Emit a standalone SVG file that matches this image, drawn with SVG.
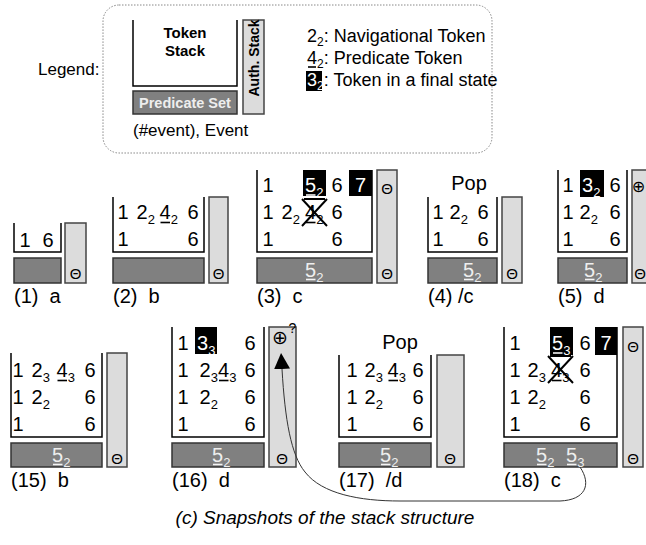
<svg xmlns="http://www.w3.org/2000/svg" width="646" height="545" viewBox="0 0 646 545">
<defs>
<style>
text { font-family: "Liberation Sans", Arial, sans-serif; fill: #000; }
.d { font-size: 20px; }
.s { font-size: 13px; }
.w { fill: #fff; }
.pw { fill: #eeeeee; }
.ts { fill: none; stroke: #000; stroke-width: 1.5; }
.pb { fill: #808080; stroke: #333; stroke-width: 1.5; }
.as { fill: #dcdcdc; stroke: #444; stroke-width: 1.5; }
.ul { stroke: #000; stroke-width: 1.6; }
.ulw { stroke: #f4f4f4; stroke-width: 1.6; }
.th { font-size: 15px; text-anchor: middle; }
.op { font-family: "DejaVu Sans", sans-serif; font-size: 19px; text-anchor: middle; }
.lb { font-size: 20px; white-space: pre; }
.x { stroke: #000; stroke-width: 2; fill: none; }
.bk { fill: #000; }
.pop { font-size: 20px; text-anchor: middle; }
.lg { font-size: 18px; }
.lgs { font-size: 12px; }
.bold { font-weight: bold; }
.conn { fill: none; stroke: #333; stroke-width: 1; }
</style>
<marker id="ah" markerWidth="16" markerHeight="16" refX="0" refY="8" orient="auto" markerUnits="userSpaceOnUse">
<path d="M0,0 L16,8 L0,16 z" fill="#000"/>
</marker>
</defs>
<rect width="646" height="545" fill="#fff"/>

<g id="legend">
<rect x="103" y="5" width="389" height="148" rx="16" fill="none" stroke="#888" stroke-width="1" stroke-dasharray="1.5,1.5"/>
<text x="38" y="75" style="font-size:17px">Legend:</text>
<path class="ts" d="M133,20 V86 H237 V20"/>
<text class="bold" x="185" y="38" text-anchor="middle" style="font-size:15px">Token</text>
<text class="bold" x="185" y="56" text-anchor="middle" style="font-size:15px">Stack</text>
<rect class="pb" x="133" y="91" width="104" height="23"/>
<text class="bold" x="185" y="108" text-anchor="middle" style="font-size:14.5px;fill:#eeeeee">Predicate Set</text>
<rect class="as" x="243" y="20" width="21" height="94"/>
<text class="bold" transform="translate(259,58) rotate(-90)" text-anchor="middle" style="font-size:14px">Auth. Stack</text>
<text x="133" y="136" style="font-size:17px">(#event), Event</text>
<text class="lg" x="307" y="42">2<tspan class="lgs" dy="4">2</tspan><tspan dy="-4">: Navigational Token</tspan></text>
<text class="lg" x="307" y="64">4<tspan class="lgs" dy="4">2</tspan><tspan dy="-4">: Predicate Token</tspan></text>
<line class="ul" x1="308" y1="67" x2="316" y2="67"/>
<rect class="bk" x="306" y="71" width="16" height="20"/>
<text class="lg" x="307" y="86"><tspan class="w">3</tspan><tspan class="lgs w" dy="4">2</tspan><tspan dy="-4">: Token in a final state</tspan></text>
</g>

<g id="snap1">
<path class="ts" d="M14,223 V252 H61 V223"/>
<text class="d" x="19.5" y="247">1</text>
<text class="d" x="42.5" y="247">6</text>
<rect class="pb" x="14" y="258" width="47" height="25"/>
<rect class="as" x="65" y="223" width="21" height="60"/>
<text class="th" x="75.5" y="279">Θ</text>
<text class="lb" x="14" y="303">(1)  a</text>
</g>

<g id="snap2">
<path class="ts" d="M113,197 V252 H204 V197"/>
<text class="d" x="117.5" y="219">1</text>
<text class="d" x="136.5" y="219">2<tspan class="s" dy="5">2</tspan></text>
<text class="d" x="159.5" y="219">4<tspan class="s" dy="5">2</tspan></text>
<line class="ul" x1="160.5" y1="222.5" x2="170" y2="222.5"/>
<text class="d" x="187.5" y="219">6</text>
<text class="d" x="117.5" y="246">1</text>
<text class="d" x="187.5" y="246">6</text>
<rect class="pb" x="113" y="258" width="91" height="25"/>
<rect class="as" x="209" y="197" width="19" height="86"/>
<text class="th" x="218.5" y="279">Θ</text>
<text class="lb" x="113" y="303">(2)  b</text>
</g>

<g id="snap3">
<path class="ts" d="M257,170 V252 H372 V170"/>
<rect class="bk" x="303" y="170" width="23" height="26"/>
<rect class="bk" x="349" y="170" width="23" height="26"/>
<text class="d" x="262.5" y="192">1</text>
<text class="d w" x="305" y="192">5<tspan class="s" dy="5">2</tspan></text>
<line class="ulw" x1="306" y1="195" x2="315.5" y2="195"/>
<text class="d" x="331.5" y="192">6</text>
<text class="d w" x="355" y="192">7</text>
<text class="d" x="262.5" y="219">1</text>
<text class="d" x="281.5" y="219">2<tspan class="s" dy="5">2</tspan></text>
<text class="d" x="305" y="219">4<tspan class="s" dy="5">2</tspan></text>
<line class="ul" x1="306" y1="222.5" x2="315.5" y2="222.5"/>
<path class="x" d="M302,199 L327,226 M327,199 L302,226 M304,199 H325"/>
<text class="d" x="331.5" y="219">6</text>
<text class="d" x="262.5" y="246">1</text>
<text class="d" x="331.5" y="246">6</text>
<rect class="pb" x="257" y="258" width="115" height="25"/>
<text class="d pw" x="305" y="277">5<tspan class="s" dy="5">2</tspan></text>
<line class="ulw" x1="306" y1="279.5" x2="315.5" y2="279.5"/>
<rect class="as" x="377" y="170" width="20" height="113"/>
<text class="th" x="387" y="194">Θ</text>
<text class="th" x="387" y="279">Θ</text>
<text class="lb" x="257" y="303">(3)  c</text>
</g>

<g id="snap4">
<text class="pop" x="469" y="190">Pop</text>
<path class="ts" d="M428,197 V252 H497 V197"/>
<text class="d" x="432.5" y="219">1</text>
<text class="d" x="449.5" y="219">2<tspan class="s" dy="5">2</tspan></text>
<text class="d" x="477.5" y="219">6</text>
<text class="d" x="432.5" y="246">1</text>
<text class="d" x="477.5" y="246">6</text>
<rect class="pb" x="428" y="258" width="69" height="25"/>
<text class="d pw" x="463" y="277">5<tspan class="s" dy="5">2</tspan></text>
<line class="ulw" x1="464" y1="279.5" x2="473.5" y2="279.5"/>
<rect class="as" x="502" y="197" width="20" height="86"/>
<text class="th" x="512" y="279">Θ</text>
<text class="lb" x="428" y="303">(4) /c</text>
</g>

<g id="snap5">
<path class="ts" d="M558,170 V252 H627 V170"/>
<rect class="bk" x="580" y="170" width="24" height="27"/>
<text class="d" x="562.5" y="192">1</text>
<text class="d w" x="582" y="192">3<tspan class="s" dy="5">2</tspan></text>
<text class="d" x="609.5" y="192">6</text>
<text class="d" x="562.5" y="219">1</text>
<text class="d" x="579.5" y="219">2<tspan class="s" dy="5">2</tspan></text>
<text class="d" x="609.5" y="219">6</text>
<text class="d" x="562.5" y="246">1</text>
<text class="d" x="609.5" y="246">6</text>
<rect class="pb" x="558" y="258" width="69" height="25"/>
<text class="d pw" x="584" y="277">5<tspan class="s" dy="5">2</tspan></text>
<line class="ulw" x1="585" y1="279.5" x2="594.5" y2="279.5"/>
<rect class="as" x="632" y="170" width="20" height="113"/>
<text class="op" x="638.5" y="192" style="font-size:16px">⊕</text>
<text class="th" x="640" y="279">Θ</text>
<text class="lb" x="558" y="303">(5)  d</text>
</g>

<g id="snap15">
<path class="ts" d="M11,353 V437 H102 V353"/>
<text class="d" x="12.5" y="377">1</text>
<text class="d" x="31.5" y="377">2<tspan class="s" dy="5">3</tspan></text>
<text class="d" x="56.5" y="377">4<tspan class="s" dy="5">3</tspan></text>
<line class="ul" x1="57.5" y1="380.5" x2="67" y2="380.5"/>
<text class="d" x="84.5" y="377">6</text>
<text class="d" x="12.5" y="404">1</text>
<text class="d" x="31.5" y="404">2<tspan class="s" dy="5">2</tspan></text>
<text class="d" x="84.5" y="404">6</text>
<text class="d" x="12.5" y="431">1</text>
<text class="d" x="84.5" y="431">6</text>
<rect class="pb" x="11" y="443" width="91" height="24"/>
<text class="d pw" x="52" y="462">5<tspan class="s" dy="5">2</tspan></text>
<line class="ulw" x1="53" y1="464.5" x2="62.5" y2="464.5"/>
<rect class="as" x="107" y="353" width="20" height="114"/>
<text class="th" x="117" y="464">Θ</text>
<text class="lb" x="11" y="487">(15)  b</text>
</g>

<g id="snap16">
<path class="ts" d="M172,327 V437 H264 V327"/>
<rect class="bk" x="195" y="327" width="22" height="27"/>
<text class="d" x="177.5" y="350">1</text>
<text class="d w" x="197" y="350">3<tspan class="s" dy="5">3</tspan></text>
<text class="d" x="244.5" y="350">6</text>
<text class="d" x="177.5" y="377">1</text>
<text class="d" x="199.5" y="377">2<tspan class="s" dy="5">3</tspan></text>
<text class="d" x="218" y="377">4<tspan class="s" dy="5">3</tspan></text>
<line class="ul" x1="219" y1="380.5" x2="228.5" y2="380.5"/>
<text class="d" x="244.5" y="377">6</text>
<text class="d" x="177.5" y="404">1</text>
<text class="d" x="199.5" y="404">2<tspan class="s" dy="5">2</tspan></text>
<text class="d" x="244.5" y="404">6</text>
<text class="d" x="177.5" y="431">1</text>
<text class="d" x="244.5" y="431">6</text>
<rect class="pb" x="172" y="443" width="92" height="24"/>
<text class="d pw" x="212" y="462">5<tspan class="s" dy="5">2</tspan></text>
<line class="ulw" x1="213" y1="464.5" x2="222.5" y2="464.5"/>
<rect class="as" x="269" y="327" width="27" height="140"/>
<text class="op" x="280" y="344">⊕</text>
<text x="288.5" y="333" style="font-size:14px">?</text>
<text class="th" x="282" y="464">Θ</text>
<text class="lb" x="172" y="487">(16)  d</text>
</g>

<g id="snap17">
<text class="pop" x="400" y="349">Pop</text>
<path class="ts" d="M339,355 V437 H431 V355"/>
<text class="d" x="346.5" y="377">1</text>
<text class="d" x="364.5" y="377">2<tspan class="s" dy="5">3</tspan></text>
<text class="d" x="387.5" y="377">4<tspan class="s" dy="5">3</tspan></text>
<line class="ul" x1="388.5" y1="380.5" x2="398" y2="380.5"/>
<text class="d" x="412.5" y="377">6</text>
<text class="d" x="346.5" y="404">1</text>
<text class="d" x="364.5" y="404">2<tspan class="s" dy="5">2</tspan></text>
<text class="d" x="412.5" y="404">6</text>
<text class="d" x="346.5" y="431">1</text>
<text class="d" x="412.5" y="431">6</text>
<rect class="pb" x="339" y="443" width="92" height="24"/>
<text class="d pw" x="380" y="462">5<tspan class="s" dy="5">2</tspan></text>
<line class="ulw" x1="381" y1="464.5" x2="390.5" y2="464.5"/>
<rect class="as" x="437" y="355" width="27" height="112"/>
<text class="th" x="450" y="464">Θ</text>
<text class="lb" x="339" y="487">(17)  /d</text>
</g>

<g id="snap18">
<path class="ts" d="M504,327 V437 H617 V327"/>
<rect class="bk" x="550" y="327" width="23" height="28"/>
<rect class="bk" x="595" y="327" width="22" height="28"/>
<text class="d" x="509.5" y="350">1</text>
<text class="d w" x="552" y="350">5<tspan class="s" dy="5">3</tspan></text>
<line class="ulw" x1="553" y1="353" x2="562.5" y2="353"/>
<text class="d" x="579.5" y="350">6</text>
<text class="d w" x="600.5" y="350">7</text>
<text class="d" x="509.5" y="377">1</text>
<text class="d" x="527.5" y="377">2<tspan class="s" dy="5">3</tspan></text>
<text class="d" x="551" y="377">4<tspan class="s" dy="5">3</tspan></text>
<line class="ul" x1="552" y1="380.5" x2="561.5" y2="380.5"/>
<path class="x" d="M548,356 L573,383 M573,356 L548,383 M550,356 H571"/>
<text class="d" x="579.5" y="377">6</text>
<text class="d" x="509.5" y="404">1</text>
<text class="d" x="527.5" y="404">2<tspan class="s" dy="5">2</tspan></text>
<text class="d" x="579.5" y="404">6</text>
<text class="d" x="509.5" y="431">1</text>
<text class="d" x="579.5" y="431">6</text>
<rect class="pb" x="504" y="443" width="113" height="24"/>
<text class="d pw" x="536" y="462">5<tspan class="s" dy="5">2</tspan></text>
<line class="ulw" x1="537" y1="464.5" x2="546.5" y2="464.5"/>
<text class="d pw" x="566" y="462">5<tspan class="s" dy="5">3</tspan></text>
<line class="ulw" x1="567" y1="464.5" x2="576.5" y2="464.5"/>
<rect class="as" x="623" y="327" width="20" height="140"/>
<text class="th" x="633" y="352">Θ</text>
<text class="th" x="633" y="464">Θ</text>
<text class="lb" x="504" y="487">(18)  c</text>
</g>

<g id="connectors">
<path class="conn" d="M580,467 C592,485 585,500 560,501 L400,501 C360,501 322,494 305,472 C291,455 285,420 282,369" marker-end="url(#ah)"/>
</g>

<text x="325" y="524" text-anchor="middle" style="font-size:19px;font-style:italic">(c) Snapshots of the stack structure</text>
</svg>
